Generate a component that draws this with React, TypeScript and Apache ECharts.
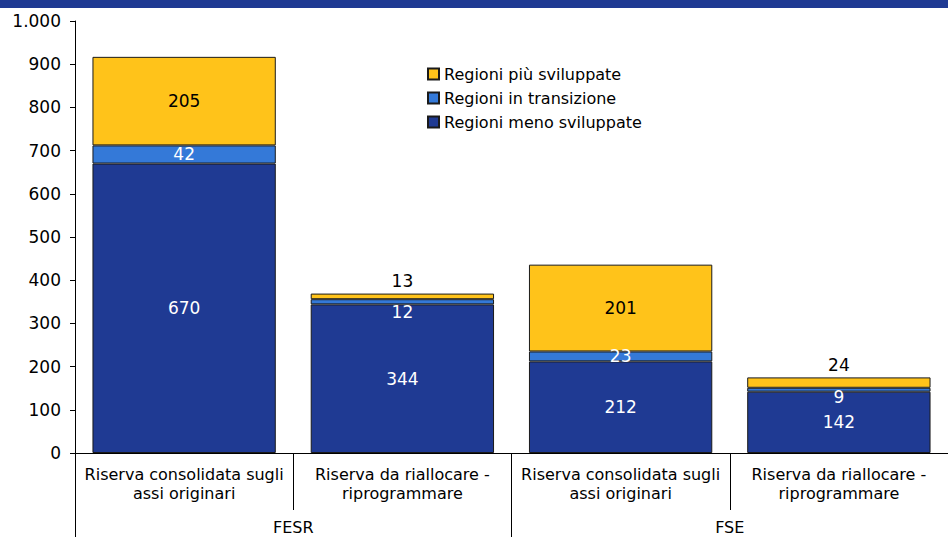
import React, { useEffect, useRef } from "react";
import * as echarts from "echarts";

const categories = [
  "Riserva consolidata sugli\nassi originari",
  "Riserva da riallocare -\nriprogrammare",
  "Riserva consolidata sugli\nassi originari",
  "Riserva da riallocare -\nriprogrammare",
];
const groups = ["FESR", "FSE"];
const menoSviluppate = [670, 344, 212, 142];
const inTransizione = [42, 12, 23, 9];
const piuSviluppate = [205, 13, 201, 24];
const seriesNames = ["Regioni più sviluppate", "Regioni in transizione", "Regioni meno sviluppate"];

const FONT = "DejaVu Sans";
const C_DARK = "#1F3A93";
const C_LIGHT = "#3479D8";
const C_YELLOW = "#FFC31A";

export default function App() {
  const ref = useRef<HTMLDivElement>(null);
  useEffect(() => {
    if (!ref.current) return;
    const chart = echarts.init(ref.current, null, { renderer: "svg" });
    const border = { borderColor: "#1a1a1a", borderWidth: 1 };
    const transOffsets: Record<number, number[]> = { 1: [0, 10], 3: [0, 7] };
    const topLabels: Record<number, boolean> = { 1: true, 3: true };
    chart.setOption({
      animation: false,
      textStyle: { fontFamily: FONT },
      graphic: [
        { type: "rect", left: 0, top: 0, shape: { width: 948, height: 8 }, style: { fill: C_DARK } },
      ],
      legend: {
        orient: "vertical",
        left: 422,
        top: 61,
        itemWidth: 11,
        itemHeight: 11,
        itemGap: 8,
        icon: "rect",
        data: seriesNames,
        textStyle: { fontFamily: FONT, fontSize: 16, color: "#000" },
      },
      grid: { left: 75, right: 0, top: 21, bottom: 84 },
      xAxis: [
        {
          type: "category",
          data: categories,
          axisLine: { show: true, lineStyle: { color: "#000", width: 1 } },
          axisTick: { show: true, alignWithLabel: false, length: 57, lineStyle: { color: "#000" } },
          axisLabel: {
            interval: 0,
            margin: 12,
            color: "#000",
            fontFamily: FONT,
            fontSize: 16,
            lineHeight: 19,
          },
        },
        {
          type: "category",
          data: groups,
          position: "bottom",
          axisLine: { show: false },
          axisTick: { show: true, alignWithLabel: false, length: 84, lineStyle: { color: "#000" } },
          axisLabel: { interval: 0, margin: 66, color: "#000", fontFamily: FONT, fontSize: 16 },
        },
      ],
      yAxis: {
        type: "value",
        min: 0,
        max: 1000,
        interval: 100,
        splitLine: { show: false },
        axisLine: { show: true, lineStyle: { color: "#000" } },
        axisTick: { show: true, length: 5, lineStyle: { color: "#000" } },
        axisLabel: {
          margin: 14,
          color: "#000",
          fontFamily: FONT,
          fontSize: 17,
          formatter: (v: number) => v.toLocaleString("de-DE"),
        },
      },
      series: [
        {
          name: seriesNames[2],
          type: "bar",
          stack: "tot",
          barWidth: "84%",
          data: menoSviluppate,
          itemStyle: { color: C_DARK, ...border },
          label: { show: true, position: "inside", color: "#fff", fontSize: 17, fontFamily: FONT },
        },
        {
          name: seriesNames[1],
          type: "bar",
          stack: "tot",
          data: inTransizione.map((v, i) => ({
            value: v,
            label: transOffsets[i] ? { offset: transOffsets[i] } : undefined,
          })),
          itemStyle: { color: C_LIGHT, ...border },
          label: { show: true, position: "inside", color: "#fff", fontSize: 17, fontFamily: FONT },
        },
        {
          name: seriesNames[0],
          type: "bar",
          stack: "tot",
          data: piuSviluppate.map((v, i) => ({
            value: v,
            label: topLabels[i] ? { position: "top", distance: 4 } : undefined,
          })),
          itemStyle: { color: C_YELLOW, ...border },
          label: { show: true, position: "inside", color: "#000", fontSize: 17, fontFamily: FONT },
        },
      ],
    });
    return () => chart.dispose();
  }, []);
  return (
    <div
      ref={ref}
      style={{ position: "fixed", left: 0, top: 0, width: 948, height: 537, background: "#fff" }}
    />
  );
}
